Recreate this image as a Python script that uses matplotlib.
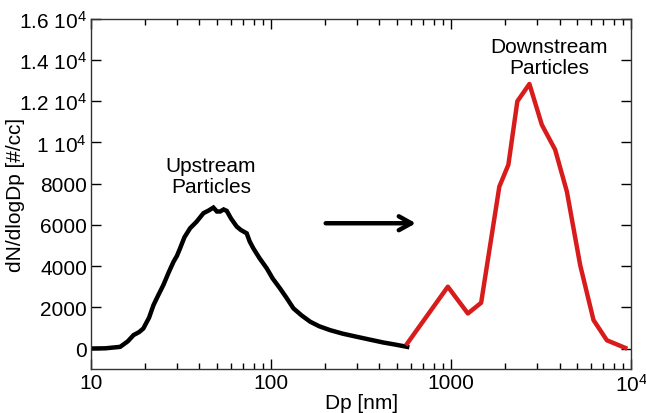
import matplotlib
matplotlib.use('Agg')
import matplotlib.pyplot as plt
from matplotlib.ticker import FixedLocator, FixedFormatter, LogLocator, NullFormatter

plt.rcParams['font.family'] = ['Liberation Sans', 'DejaVu Sans']
plt.rcParams['mathtext.fontset'] = 'custom'
plt.rcParams['mathtext.rm'] = 'Liberation Sans'
plt.rcParams['mathtext.it'] = 'Liberation Sans'

# upstream size distribution (black)
up_dp = [10, 12, 14.5, 16, 17.2, 18.5, 19.5, 21, 22.2, 23.5, 25.2, 27, 28.7, 30, 31.2,
         33, 35.5, 38.5, 42.1, 45, 47.8, 50, 52.1, 54.5, 56.7, 60, 64.4, 68, 73.2,
         76, 79.7, 86, 94.6, 102, 112, 122, 133, 148, 165, 185, 213, 250, 299, 350,
         421, 490, 570]
up_n = [0, 10, 80, 350, 650, 800, 970, 1500, 2100, 2550, 3080, 3700, 4210, 4500, 4860,
        5400, 5840, 6150, 6570, 6700, 6840, 6650, 6650, 6750, 6680, 6300, 5920, 5750,
        5590, 5200, 4860, 4400, 3890, 3400, 2920, 2450, 1950, 1600, 1300, 1080, 890,
        720, 570, 440, 290, 190, 80]

# downstream size distribution (red)
down_dp = [570, 959, 1239, 1468, 1853, 2080, 2333, 2722, 3191, 3783, 4395, 5210,
           6180, 7330, 9270]
down_n = [240, 3000, 1700, 2220, 7860, 8920, 12000, 12840, 10860, 9650, 7620, 4050,
          1380, 400, 30]

ytick_vals = [0, 2000, 4000, 6000, 8000, 10000, 12000, 14000, 16000]
ytick_labels = ['0', '2000', '4000', '6000', '8000', '1 10$^4$', '1.2 10$^4$',
                '1.4 10$^4$', '1.6 10$^4$']
xtick_vals = [10, 100, 1000, 10000]
xtick_labels = ['10', '100', '1000', '10$^4$']

fig = plt.figure(figsize=(6.46, 4.14), dpi=100)
ax = fig.add_axes([0.141, 0.106, 0.836, 0.846])

ax.plot(up_dp, up_n, color='black', lw=3.2, solid_joinstyle='miter')
ax.plot(down_dp, down_n, color='#d81c1c', lw=3.2)

ax.set_xscale('log')
ax.set_xlim(10, 10000)
ax.set_ylim(-1000, 16000)

ax.xaxis.set_major_locator(FixedLocator(xtick_vals))
ax.xaxis.set_major_formatter(FixedFormatter(xtick_labels))
ax.xaxis.set_minor_locator(LogLocator(base=10, subs=range(2, 10)))
ax.xaxis.set_minor_formatter(NullFormatter())
ax.yaxis.set_major_locator(FixedLocator(ytick_vals))
ax.yaxis.set_major_formatter(FixedFormatter(ytick_labels))

ax.tick_params(which='both', direction='in', top=True, right=True, labelsize=15)
ax.tick_params(which='major', length=7, width=1, pad=3)
ax.tick_params(which='minor', length=4, width=1)
for s in ax.spines.values():
    s.set_linewidth(1)
    s.set_color('#333333')

ax.set_xlabel('Dp [nm]', fontsize=15)
ax.set_ylabel('dN/dlogDp [#/cc]', fontsize=15)
ax.xaxis.set_label_coords(0.5, -0.068)
ax.yaxis.set_label_coords(-0.14, 0.5)
ax.yaxis.label.set_va('center')

ax.text(46.4, 8370, 'Upstream\nParticles', ha='center', va='center', fontsize=15,
        linespacing=1.1)
ax.text(3500, 14150, 'Downstream\nParticles', ha='center', va='center', fontsize=15,
        linespacing=1.15)

ax.annotate('', xy=(660, 6080), xytext=(194, 6080),
            arrowprops=dict(arrowstyle='->,head_length=0.9,head_width=0.5',
                            color='black', lw=3.2))

fig.savefig('out.png', dpi=100)
